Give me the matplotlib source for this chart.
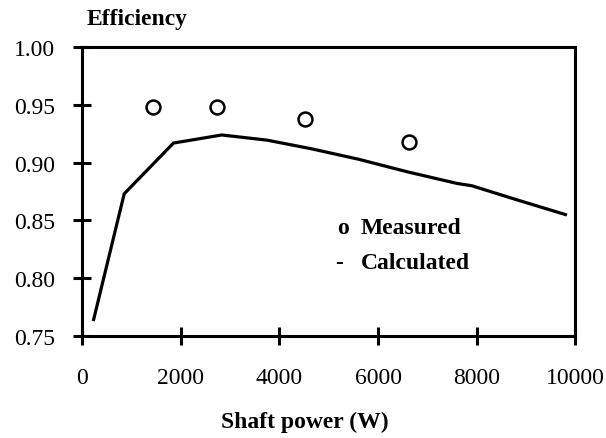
import matplotlib.pyplot as plt

# measured points
meas_power = [1440, 2730, 4520, 6630]
meas_eff = [0.948, 0.948, 0.938, 0.918]

# calculated curve
calc_power = [230, 850, 1850, 2830, 3750, 4650, 5600, 6600, 7600, 7900, 8800, 9800]
calc_eff = [0.764, 0.873, 0.917, 0.924, 0.9195, 0.912, 0.903, 0.892, 0.882, 0.880, 0.868, 0.855]

xticks = [0, 2000, 4000, 6000, 8000, 10000]
yticks = [0.75, 0.80, 0.85, 0.90, 0.95, 1.00]

plt.rcParams['font.family'] = ['Liberation Serif', 'DejaVu Serif']

fig = plt.figure(figsize=(6.06, 4.39), dpi=100)
ax = fig.add_axes([0.1358, 0.233, 0.8135, 0.657])

ax.plot(calc_power, calc_eff, color='black', lw=2.3, solid_joinstyle='miter')
ax.plot(meas_power, meas_eff, 'o', ms=10, mfc='none', mec='black', mew=1.8)

ax.set_xlim(0, 10000)
ax.set_ylim(0.75, 1.00)
ax.set_xticks(xticks)
ax.set_yticks(yticks)
ax.set_yticklabels([f'{v:.2f}' for v in yticks])

for s in ax.spines.values():
    s.set_linewidth(2.2)
ax.tick_params(direction='inout', length=13, width=2.2, labelsize=17, pad=13)
ax.tick_params(axis='x', pad=16)

# label placed like the original, above the axis
fig.text(87 / 606, 1 - 19 / 439, 'Efficiency', fontsize=17, fontweight='bold', va='center', ha='left')
fig.text(305 / 606, 1 - 422 / 439, 'Shaft power (W)', fontsize=17, fontweight='bold', va='center', ha='center')

# key written as text
fig.text(337 / 606, 1 - 228 / 439, 'o', fontsize=17, fontweight='bold', va='center', ha='left')
fig.text(361 / 606, 1 - 228 / 439, 'Measured', fontsize=17, fontweight='bold', va='center', ha='left')
fig.text(335 / 606, 1 - 264 / 439, '-', fontsize=17, fontweight='bold', va='center', ha='left')
fig.text(361 / 606, 1 - 264 / 439, 'Calculated', fontsize=17, fontweight='bold', va='center', ha='left')

fig.savefig('out.png', dpi=100)
